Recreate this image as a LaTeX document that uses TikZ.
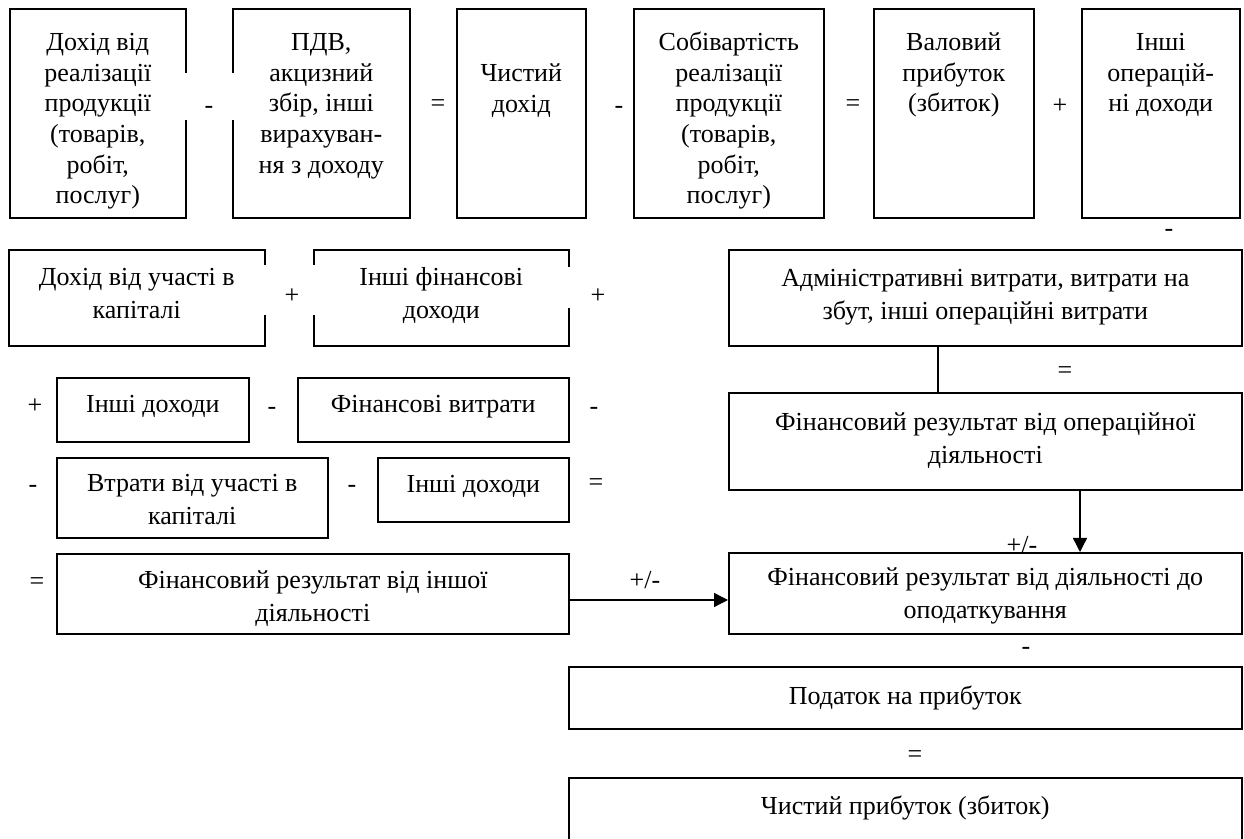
\documentclass[tikz,border=0pt]{standalone}
\usepackage{fontspec}
\setmainfont{Liberation Serif}
\usetikzlibrary{arrows.meta}
\tikzset{
  box/.style={draw, line width=0.8pt, inner sep=0pt, anchor=north west},
  op/.style={inner sep=0pt, anchor=center},
  conn/.style={line width=0.7pt},
  arr/.style={conn, -{Triangle[length=7pt,width=7pt]}},
}
\newcommand\bx[7]{\node[box] (#1) at (#2,#3) {\parbox[c][\dimexpr#5pt/2\relax][t]{\dimexpr#4pt/2\relax}{\centering\rule{0pt}{\dimexpr#6pt/2\relax}#7\par}};}
\begin{document}
\begin{tikzpicture}[x=0.5pt,y=-0.5pt,font=\fontsize{13pt}{16.5pt}\selectfont]
\useasboundingbox (0,0) rectangle (1244,839);
\clip (0,0) rectangle (1244,839);
% row 1
\begin{scope}[font=\fontsize{13pt}{15.3pt}\selectfont]
\bx{d1}{9}{8}{176}{209}{42}{Дохід від\\реалізації\\продукції\\(товарів,\\робіт,\\послуг)}
\bx{pdv}{232}{8}{177}{209}{42}{ПДВ,\\акцизний\\збір, інші\\вирахуван-\\ня з доходу}
\bx{nd}{456}{8}{129}{209}{73}{Чистий\\дохід}
\bx{sob}{633}{8}{190}{209}{42}{Собівартість\\реалізації\\продукції\\(товарів,\\робіт,\\послуг)}
\bx{val}{873}{8}{160}{209}{42}{Валовий\\прибуток\\(збиток)}
\bx{iod}{1081}{8}{158}{209}{42}{Інші\\операцій-\\ні доходи}
\end{scope}
% row 2
\bx{duk}{8}{249}{256}{96}{36}{Дохід від участі в\\капіталі}
\bx{ifd}{313}{249}{255}{96}{36}{Інші фінансові\\доходи}
\bx{adm}{728}{249}{513}{96}{37}{Адміністративні витрати, витрати на\\збут, інші операційні витрати}
\bx{opr}{728}{392}{513}{97}{38}{Фінансовий результат від операційної\\діяльності}
% row 3
\bx{ind1}{56}{377}{192}{64}{35}{Інші доходи}
\bx{fv}{297}{377}{271}{64}{35}{Фінансові витрати}
% row 4
\bx{vtr}{56}{457}{271}{80}{34}{Втрати від участі в\\капіталі}
\bx{ind2}{377}{457}{191}{64}{35}{Інші доходи}
% row 5
\bx{fri}{56}{553}{512}{80}{35}{Фінансовий результат від іншої\\діяльності}
\bx{fbt}{728}{552}{513}{81}{33}{Фінансовий результат від діяльності до\\оподаткування}
\bx{pod}{568}{666}{673}{62}{38}{Податок на прибуток}
\bx{chp}{568}{777}{673}{140}{37}{Чистий прибуток (збиток)}
% white gaps where the sign frames overlap the box borders
\fill[white] (182,73) rectangle (235,120);
\fill[white] (261,265) rectangle (316,315);
\fill[white] (565,267) rectangle (572,308);
% operators
\node[op] (o1) at (209,110) {-};
\node[op] (o2) at (438,106) {=};
\node[op] (o3) at (619,110) {-};
\node[op] (o4) at (853,106) {=};
\node[op] (o5) at (1060,106) {+};
\node[op] (o6) at (1169,233) {-};
\node[op] (o7) at (292,296) {+};
\node[op] (o8) at (598,296) {+};
\node[op] (o9) at (1065,373) {=};
\node[op] (o10) at (35,406) {+};
\node[op] (o11) at (272,411) {-};
\node[op] (o12) at (594,411) {-};
\node[op] (o13) at (33,489) {-};
\node[op] (o14) at (352,489) {-};
\node[op] (o15) at (596,485) {=};
\node[op] (o16) at (37,584) {=};
\node[op] (o17) at (645,580) {+/-};
\node[op] (o18) at (1022,545) {+/-};
\node[op] (o19) at (1026,651) {-};
\node[op] (o20) at (915,757) {=};
% connectors
\coordinate (vx) at (938,0);
\draw[conn] (adm.south -| vx) -- (opr.north -| vx);
\coordinate (ax) at (1080,0);
\draw[arr] (opr.south -| ax) -- (fbt.north -| ax);
\coordinate (ay) at (0,600);
\draw[arr] (fri.east |- ay) -- (fbt.west |- ay);
\end{tikzpicture}
\end{document}
